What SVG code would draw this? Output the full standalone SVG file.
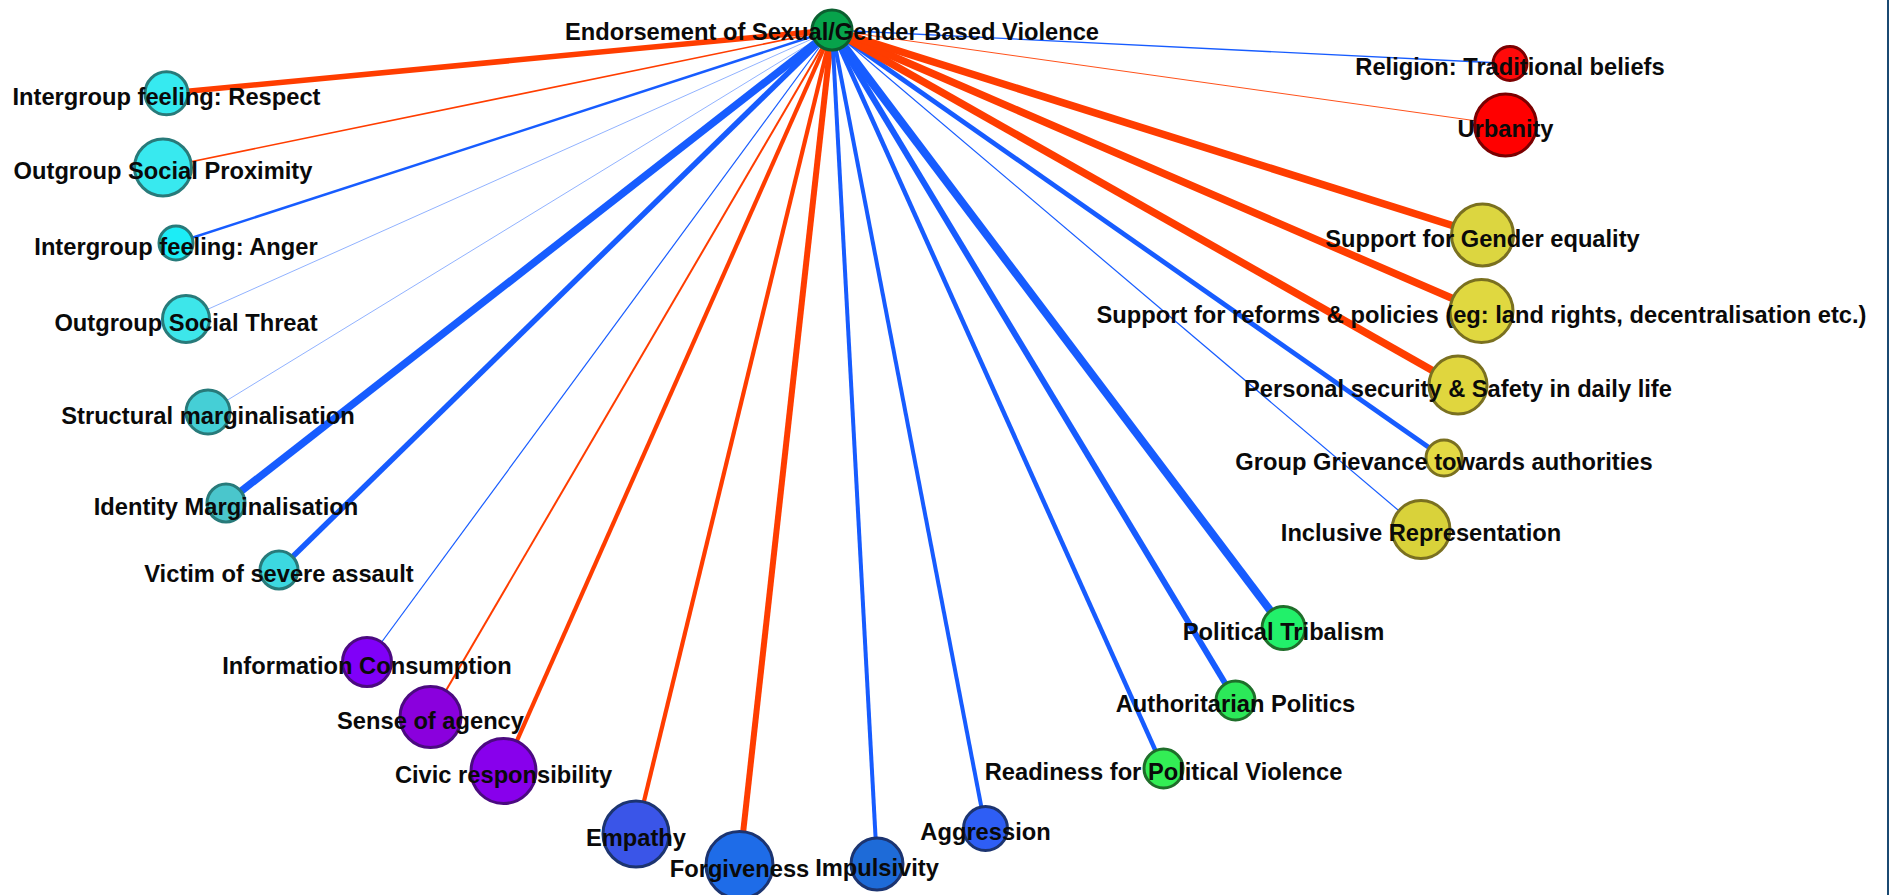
<svg xmlns="http://www.w3.org/2000/svg" width="1889" height="895" viewBox="0 0 1889 895">
<style>
.lbl{font-family:"Liberation Sans",Arial,Helvetica,sans-serif;font-weight:bold;font-size:23.7px;fill:#0a0a0a;text-anchor:middle}
.e{fill:none;stroke-linecap:butt}
.pos{stroke:#ff3d00}
.neg{stroke:#175cff}
.cy{stroke:#287a7a;stroke-width:3}
.pu{stroke:#4b0a80;stroke-width:3}
.bl{stroke:#1c3470;stroke-width:3}
.gr{stroke:#1f6e2a;stroke-width:3}
.ye{stroke:#7a7020;stroke-width:3}
.rd{stroke:#7a0000;stroke-width:3}
</style>
<rect x="0" y="0" width="1889" height="895" fill="#ffffff"/>
<line x1="1888" y1="0" x2="1888" y2="895" stroke="#1b4a72" stroke-width="2"/>
<g id="connectors">
<line class="e pos" x1="832" y1="30" x2="166.5" y2="93.3" stroke-width="5.5"/>
<line class="e pos" x1="832" y1="30" x2="163" y2="167.5" stroke-width="1.6"/>
<line class="e neg" x1="832" y1="30" x2="176" y2="243" stroke-width="2.5"/>
<line class="e neg" x1="832" y1="30" x2="186" y2="319" stroke-width="0.8" stroke-opacity="0.6"/>
<line class="e neg" x1="832" y1="30" x2="208" y2="412" stroke-width="0.8" stroke-opacity="0.6"/>
<line class="e neg" x1="832" y1="30" x2="226" y2="503" stroke-width="7.5"/>
<line class="e neg" x1="832" y1="30" x2="279" y2="570" stroke-width="5.5"/>
<line class="e neg" x1="832" y1="30" x2="367" y2="662" stroke-width="1.2"/>
<line class="e pos" x1="832" y1="30" x2="430.5" y2="717" stroke-width="2"/>
<line class="e pos" x1="832" y1="30" x2="503.5" y2="771" stroke-width="4.2"/>
<line class="e pos" x1="832" y1="30" x2="636" y2="834" stroke-width="4.2"/>
<line class="e pos" x1="832" y1="30" x2="739.5" y2="865" stroke-width="6"/>
<line class="e neg" x1="832" y1="30" x2="877" y2="864" stroke-width="4"/>
<line class="e neg" x1="832" y1="30" x2="985.5" y2="828.5" stroke-width="4"/>
<line class="e neg" x1="832" y1="30" x2="1163.5" y2="768.5" stroke-width="4.5"/>
<line class="e neg" x1="832" y1="30" x2="1235.5" y2="700.5" stroke-width="6"/>
<line class="e neg" x1="832" y1="30" x2="1283.5" y2="628" stroke-width="8"/>
<line class="e neg" x1="832" y1="30" x2="1421" y2="529.5" stroke-width="1.2"/>
<line class="e neg" x1="832" y1="30" x2="1444" y2="458" stroke-width="4.8"/>
<line class="e pos" x1="832" y1="30" x2="1458" y2="385" stroke-width="7.5"/>
<line class="e pos" x1="832" y1="30" x2="1481.5" y2="311" stroke-width="7.5"/>
<line class="e pos" x1="832" y1="30" x2="1482.5" y2="235" stroke-width="7.5"/>
<line class="e pos" x1="832" y1="30" x2="1505.5" y2="125" stroke-width="0.9"/>
<line class="e neg" x1="832" y1="30" x2="1510" y2="63.5" stroke-width="1.3"/>
</g>
<g id="n-respect"><circle class="cy" cx="166.5" cy="93.3" r="21.5" fill="#36eaf0"/><text class="lbl" x="166.5" y="105">Intergroup feeling: Respect</text></g>
<g id="n-proximity"><circle class="cy" cx="163" cy="167.5" r="28.5" fill="#38e9ef"/><text class="lbl" x="163" y="179">Outgroup Social Proximity</text></g>
<g id="n-anger"><circle class="cy" cx="176" cy="243" r="17" fill="#1cedf6"/><text class="lbl" x="176" y="254.5">Intergroup feeling: Anger</text></g>
<g id="n-threat"><circle class="cy" cx="186" cy="319" r="23.5" fill="#3de6ea"/><text class="lbl" x="186" y="330.5">Outgroup Social Threat</text></g>
<g id="n-structural"><circle class="cy" cx="208" cy="412" r="22" fill="#45cfd6"/><text class="lbl" x="208" y="424">Structural marginalisation</text></g>
<g id="n-identity"><circle class="cy" cx="226" cy="503" r="19" fill="#4ac6cc"/><text class="lbl" x="226" y="514.5">Identity Marginalisation</text></g>
<g id="n-victim"><circle class="cy" cx="279" cy="570" r="19" fill="#3cd8e0"/><text class="lbl" x="279" y="581.5">Victim of severe assault</text></g>
<g id="n-info"><circle class="pu" cx="367" cy="662" r="24.5" fill="#8000f8"/><text class="lbl" x="367" y="673.5">Information Consumption</text></g>
<g id="n-agency"><circle class="pu" cx="430.5" cy="717" r="30.5" fill="#8a00dd"/><text class="lbl" x="430.5" y="728.5">Sense of agency</text></g>
<g id="n-civic"><circle class="pu" cx="503.5" cy="771" r="32.5" fill="#8800ec"/><text class="lbl" x="503.5" y="782.5">Civic responsibility</text></g>
<g id="n-empathy"><circle class="bl" cx="636" cy="834" r="33" fill="#3a55e8"/><text class="lbl" x="636" y="845.5">Empathy</text></g>
<g id="n-forgiveness"><circle class="bl" cx="739.5" cy="865" r="33.5" fill="#1e6ce8"/><text class="lbl" x="739.5" y="876.5">Forgiveness</text></g>
<g id="n-impulsivity"><circle class="bl" cx="877" cy="864" r="26" fill="#1e6bd8"/><text class="lbl" x="877" y="875.5">Impulsivity</text></g>
<g id="n-aggression"><circle class="bl" cx="985.5" cy="828.5" r="22" fill="#2e5ef5"/><text class="lbl" x="985.5" y="840">Aggression</text></g>
<g id="n-readiness"><circle class="gr" cx="1163.5" cy="768.5" r="19.5" fill="#33ee55"/><text class="lbl" x="1163.5" y="780">Readiness for Political Violence</text></g>
<g id="n-authoritarian"><circle class="gr" cx="1235.5" cy="700.5" r="19.5" fill="#2ce859"/><text class="lbl" x="1235.5" y="712">Authoritarian Politics</text></g>
<g id="n-tribalism"><circle class="gr" cx="1283.5" cy="628" r="21.5" fill="#22f06a"/><text class="lbl" x="1283.5" y="639.5">Political Tribalism</text></g>
<g id="n-inclusive"><circle class="ye" cx="1421" cy="529.5" r="29" fill="#d9d23a"/><text class="lbl" x="1421" y="541">Inclusive Representation</text></g>
<g id="n-grievance"><circle class="ye" cx="1444" cy="458" r="18" fill="#e3da44"/><text class="lbl" x="1444" y="469.5">Group Grievance towards authorities</text></g>
<g id="n-security"><circle class="ye" cx="1458" cy="385" r="29" fill="#e0d63e"/><text class="lbl" x="1458" y="396.5">Personal security &amp; Safety in daily life</text></g>
<g id="n-reforms"><circle class="ye" cx="1481.5" cy="311" r="31.5" fill="#e0d840"/><text class="lbl" x="1481.5" y="322.5">Support for reforms &amp; policies (eg: land rights, decentralisation etc.)</text></g>
<g id="n-gender"><circle class="ye" cx="1482.5" cy="235" r="31" fill="#dcd640"/><text class="lbl" x="1482.5" y="246.5">Support for Gender equality</text></g>
<g id="n-urbanity"><circle class="rd" cx="1505.5" cy="125" r="31" fill="#ff0000"/><text class="lbl" x="1505.5" y="136.5">Urbanity</text></g>
<g id="n-religion"><circle class="rd" cx="1510" cy="63.5" r="17" fill="#ff0a0a"/><text class="lbl" x="1510" y="75">Religion: Traditional beliefs</text></g>
<g id="n-center"><circle cx="832" cy="30" r="20" fill="#07a34b" stroke="#0c5f30" stroke-width="3"/><text class="lbl" x="832" y="40">Endorsement of Sexual/Gender Based Violence</text></g>
</svg>
